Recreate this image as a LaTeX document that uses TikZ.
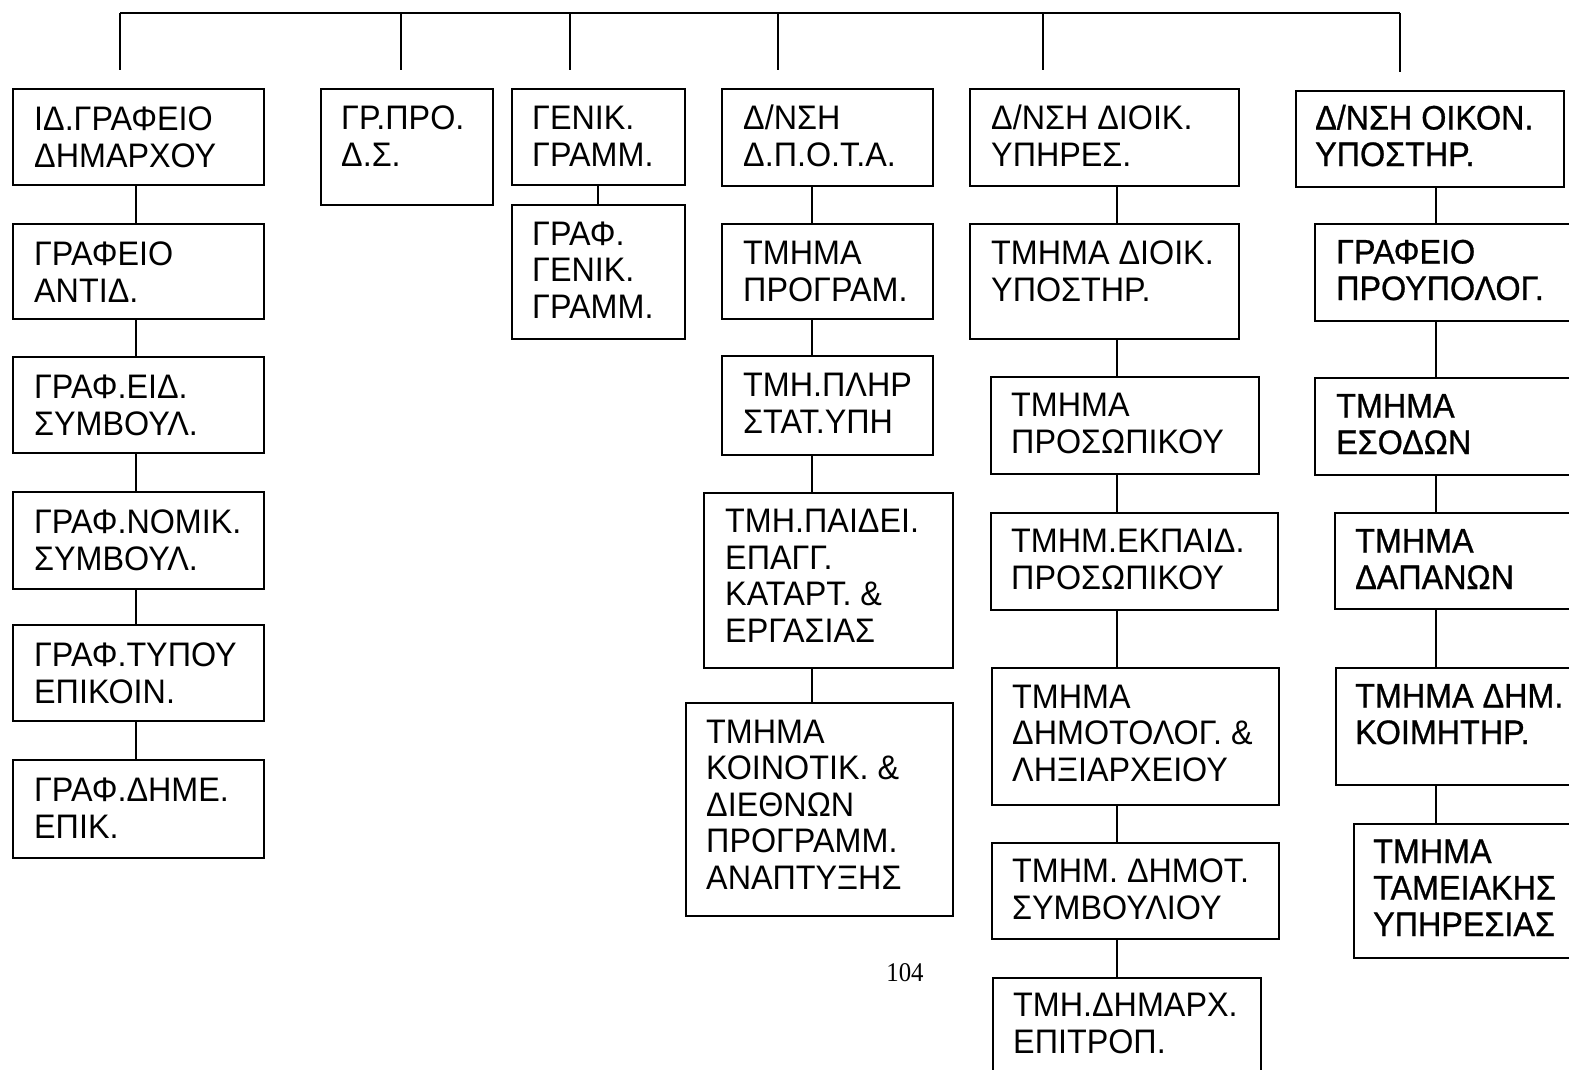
\documentclass[tikz,border=0pt]{standalone}
\usepackage{fontspec}
\setmainfont{Liberation Sans}[FakeStretch=0.95]
\newfontfamily\darkfont{Liberation Sans}[FakeStretch=0.95, FakeBold=0.8]
\newfontfamily\pagefont{Liberation Serif}[FakeStretch=0.92]

\tikzset{
    unit/.style={draw, line width=1.5pt, anchor=north west, inner sep=0pt},
    unittext/.style={anchor=base west, align=left, inner sep=0pt, font=\fontsize{34}{36.5}\selectfont},
    unitdark/.style={unittext, font=\darkfont\fontsize{34}{36.5}\selectfont},
    link/.style={line width=1.2pt},
}

\begin{document}
\begin{tikzpicture}[x=1pt,y=-1pt]
    \useasboundingbox (0,0) rectangle (1569,1069);
    \clip (0,0) rectangle (1569,1069);

    \coordinate (top1) at (120,13);
    \coordinate (top2) at (401,13);
    \coordinate (top3) at (570,13);
    \coordinate (top4) at (778,13);
    \coordinate (top5) at (1043,13);
    \coordinate (top6) at (1400,13);
    \coordinate (drop1) at (120,70);
    \coordinate (drop2) at (401,70);
    \coordinate (drop3) at (570,70);
    \coordinate (drop4) at (778,70);
    \coordinate (drop5) at (1043,70);
    \coordinate (drop6) at (1400,72);
    \coordinate (col1) at (136,0);
    \coordinate (col3) at (598,0);
    \coordinate (col4) at (812,0);
    \coordinate (col5) at (1117,0);
    \coordinate (col6) at (1436,0);

    \draw[link] (top1) -- (top6);
    \foreach \i in {1,...,6}
        \draw[link] (top\i) -- (drop\i);

    \node[unit, minimum width=251pt, minimum height=96pt] (idgraf) at (12,88) {};
    \node[unit, minimum width=251pt, minimum height=95pt] (antid) at (12,223) {};
    \node[unit, minimum width=251pt, minimum height=96pt] (eidsymv) at (12,356) {};
    \node[unit, minimum width=251pt, minimum height=97pt] (nomsymv) at (12,491) {};
    \node[unit, minimum width=251pt, minimum height=96pt] (typou) at (12,624) {};
    \node[unit, minimum width=251pt, minimum height=98pt] (dimep) at (12,759) {};

    \node[unit, minimum width=172pt, minimum height=116pt] (grpro) at (320,88) {};

    \node[unit, minimum width=173pt, minimum height=96pt] (genik) at (511,88) {};
    \node[unit, minimum width=173pt, minimum height=134pt] (grafgen) at (511,204) {};

    \node[unit, minimum width=211pt, minimum height=97pt] (dpota) at (721,88) {};
    \node[unit, minimum width=211pt, minimum height=95pt] (progr) at (721,223) {};
    \node[unit, minimum width=211pt, minimum height=99pt] (plir) at (721,355) {};
    \node[unit, minimum width=249pt, minimum height=175pt] (paidei) at (703,492) {};
    \node[unit, minimum width=267pt, minimum height=213pt] (koinot) at (685,702) {};

    \node[unit, minimum width=269pt, minimum height=97pt] (dioik) at (969,88) {};
    \node[unit, minimum width=269pt, minimum height=115pt] (ypost) at (969,223) {};
    \node[unit, minimum width=268pt, minimum height=97pt] (prosop) at (990,376) {};
    \node[unit, minimum width=287pt, minimum height=97pt] (ekpaid) at (990,512) {};
    \node[unit, minimum width=287pt, minimum height=137pt] (dimotol) at (991,667) {};
    \node[unit, minimum width=287pt, minimum height=96pt] (dimsymv) at (991,842) {};
    \node[unit, minimum width=268pt, minimum height=103pt] (dimepit) at (992,977) {};

    \node[unit, minimum width=268pt, minimum height=96pt] (oikon) at (1295,90) {};
    \node[unit, minimum width=266pt, minimum height=97pt] (proyp) at (1314,223) {};
    \node[unit, minimum width=266pt, minimum height=97pt] (esodon) at (1314,377) {};
    \node[unit, minimum width=246pt, minimum height=96pt] (dapanon) at (1334,512) {};
    \node[unit, minimum width=245pt, minimum height=117pt] (koimit) at (1335,667) {};
    \node[unit, minimum width=227pt, minimum height=134pt] (tameiak) at (1353,823) {};

    \node[unittext] (idgraf-l) at ([shift={(22,79)}]idgraf.north west) {ΙΔ.ΓΡΑΦΕΙΟ\\ΔΗΜΑΡΧΟΥ};
    \node[unittext] (antid-l) at ([shift={(22,79)}]antid.north west) {ΓΡΑΦΕΙΟ\\ΑΝΤΙΔ.};
    \node[unittext] (eidsymv-l) at ([shift={(22,79)}]eidsymv.north west) {ΓΡΑΦ.ΕΙΔ.\\ΣΥΜΒΟΥΛ.};
    \node[unittext] (nomsymv-l) at ([shift={(22,79)}]nomsymv.north west) {ΓΡΑΦ.ΝΟΜΙΚ.\\ΣΥΜΒΟΥΛ.};
    \node[unittext] (typou-l) at ([shift={(22,79)}]typou.north west) {ΓΡΑΦ.ΤΥΠΟΥ\\ΕΠΙΚΟΙΝ.};
    \node[unittext] (dimep-l) at ([shift={(22,79)}]dimep.north west) {ΓΡΑΦ.ΔΗΜΕ.\\ΕΠΙΚ.};
    \node[unittext] (grpro-l) at ([shift={(21,78)}]grpro.north west) {ΓΡ.ΠΡΟ.\\Δ.Σ.};
    \node[unittext] (genik-l) at ([shift={(21,78)}]genik.north west) {ΓΕΝΙΚ.\\ΓΡΑΜΜ.};
    \node[unittext] (grafgen-l) at ([shift={(21,114)}]grafgen.north west) {ΓΡΑΦ.\\ΓΕΝΙΚ.\\ΓΡΑΜΜ.};
    \node[unittext] (dpota-l) at ([shift={(22,78)}]dpota.north west) {Δ/ΝΣΗ\\Δ.Π.Ο.Τ.Α.};
    \node[unittext] (progr-l) at ([shift={(22,78)}]progr.north west) {ΤΜΗΜΑ\\ΠΡΟΓΡΑΜ.};
    \node[unittext] (plir-l) at ([shift={(22,78)}]plir.north west) {ΤΜΗ.ΠΛΗΡ\\ΣΤΑΤ.ΥΠΗ};
    \node[unittext] (paidei-l) at ([shift={(22,150)}]paidei.north west) {ΤΜΗ.ΠΑΙΔΕΙ.\\ΕΠΑΓΓ.\\ΚΑΤΑΡΤ. \&\\ΕΡΓΑΣΙΑΣ};
    \node[unittext] (koinot-l) at ([shift={(21,187)}]koinot.north west) {ΤΜΗΜΑ\\ΚΟΙΝΟΤΙΚ. \&\\ΔΙΕΘΝΩΝ\\ΠΡΟΓΡΑΜΜ.\\ΑΝΑΠΤΥΞΗΣ};
    \node[unittext] (dioik-l) at ([shift={(22,78)}]dioik.north west) {Δ/ΝΣΗ ΔΙΟΙΚ.\\ΥΠΗΡΕΣ.};
    \node[unittext] (ypost-l) at ([shift={(22,78)}]ypost.north west) {ΤΜΗΜΑ ΔΙΟΙΚ.\\ΥΠΟΣΤΗΡ.};
    \node[unittext] (prosop-l) at ([shift={(21,77)}]prosop.north west) {ΤΜΗΜΑ\\ΠΡΟΣΩΠΙΚΟΥ};
    \node[unittext] (ekpaid-l) at ([shift={(21,77)}]ekpaid.north west) {ΤΜΗΜ.ΕΚΠΑΙΔ.\\ΠΡΟΣΩΠΙΚΟΥ};
    \node[unittext] (dimotol-l) at ([shift={(21,114)}]dimotol.north west) {ΤΜΗΜΑ\\ΔΗΜΟΤΟΛΟΓ. \&\\ΛΗΞΙΑΡΧΕΙΟΥ};
    \node[unittext] (dimsymv-l) at ([shift={(21,77)}]dimsymv.north west) {ΤΜΗΜ. ΔΗΜΟΤ.\\ΣΥΜΒΟΥΛΙΟΥ};
    \node[unittext] (dimepit-l) at ([shift={(21,76)}]dimepit.north west) {ΤΜΗ.ΔΗΜΑΡΧ.\\ΕΠΙΤΡΟΠ.};
    \node[unitdark] (oikon-l) at ([shift={(20,76)}]oikon.north west) {Δ/ΝΣΗ ΟΙΚΟΝ.\\ΥΠΟΣΤΗΡ.};
    \node[unitdark] (proyp-l) at ([shift={(22,77)}]proyp.north west) {ΓΡΑΦΕΙΟ\\ΠΡΟΥΠΟΛΟΓ.};
    \node[unitdark] (esodon-l) at ([shift={(22,77)}]esodon.north west) {ΤΜΗΜΑ\\ΕΣΟΔΩΝ};
    \node[unitdark] (dapanon-l) at ([shift={(21,77)}]dapanon.north west) {ΤΜΗΜΑ\\ΔΑΠΑΝΩΝ};
    \node[unitdark] (koimit-l) at ([shift={(20,77)}]koimit.north west) {ΤΜΗΜΑ ΔΗΜ.\\ΚΟΙΜΗΤΗΡ.};
    \node[unitdark] (tameiak-l) at ([shift={(20,113)}]tameiak.north west) {ΤΜΗΜΑ\\ΤΑΜΕΙΑΚΗΣ\\ΥΠΗΡΕΣΙΑΣ};

    \foreach \u/\v in {idgraf/antid, antid/eidsymv, eidsymv/nomsymv, nomsymv/typou, typou/dimep}
        \draw[link] (\u.south -| col1) -- (\v.north -| col1);
    \draw[link] (genik.south -| col3) -- (grafgen.north -| col3);
    \foreach \u/\v in {dpota/progr, progr/plir, plir/paidei, paidei/koinot}
        \draw[link] (\u.south -| col4) -- (\v.north -| col4);
    \foreach \u/\v in {dioik/ypost, ypost/prosop, prosop/ekpaid, ekpaid/dimotol, dimotol/dimsymv, dimsymv/dimepit}
        \draw[link] (\u.south -| col5) -- (\v.north -| col5);
    \foreach \u/\v in {oikon/proyp, proyp/esodon, esodon/dapanon, dapanon/koimit, koimit/tameiak}
        \draw[link] (\u.south -| col6) -- (\v.north -| col6);

    \node[anchor=base, inner sep=0pt, font=\pagefont\fontsize{27}{30}\selectfont] (pagenum) at (905,981) {104};
\end{tikzpicture}
\end{document}
